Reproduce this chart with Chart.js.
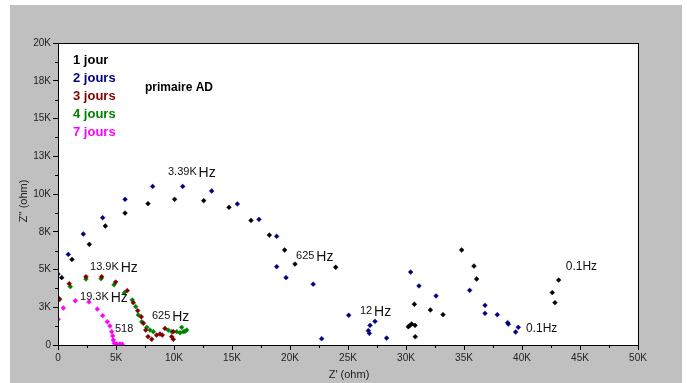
<!DOCTYPE html>
<html>
<head>
<meta charset="utf-8">
<script src="https://cdn.jsdelivr.net/npm/chart.js@4"></script>
<style>
  html, body { margin: 0; padding: 0; background: #fff; }
</style>
</head>
<body>
<canvas id="nyquist" width="687" height="383"></canvas>
<script>
// Nyquist data, in ohm
const seriesNames = ["1 jour", "2 jours", "3 jours", "4 jours", "7 jours"];
const seriesColors = ["#000000", "#000080", "#800000", "#008000", "#ff00ff"];

const day1Re = [320, 1200, 2700, 4080, 5780, 7760, 10050, 12560, 14740, 16640, 18220, 19540, 20430, 23940,
  30720, 30200, 30340, 30490, 30780, 30800, 32100, 33190, 34800, 35860, 36090, 42610, 42840, 43160];
const day1Im = [4460, 5670, 6670, 7880, 8740, 9360, 9650, 9560, 9120, 8250, 7280, 6290, 5360, 5150,
  2700, 1210, 1300, 1390, 1300, 550, 2320, 2010, 6290, 5230, 4370, 3470, 2800, 4300];

const day2Re = [0, 890, 2180, 3850, 5780, 8160, 10750, 13250, 15460, 17330, 18850, 18850, 19660, 22000,
  22730, 25060, 26750, 26840, 26900, 27330, 28330, 30400, 31120, 32590, 35490, 36810, 36810, 37870,
  38760, 38820, 39450, 39680];
const day2Im = [4700, 6000, 7350, 8430, 9650, 10500, 10500, 10200, 9340, 8320, 7200, 5190, 4460, 4030,
  420, 1970, 950, 770, 1300, 1570, 460, 4830, 3910, 3250, 3620, 2630, 2100, 2010,
  1480, 1390, 860, 1170];

const day3Re = [120, 970, 2410, 3770, 4970, 5970, 6490, 6870, 7180, 7360, 7560, 7760, 8080, 8500,
  8790, 8990, 9220, 9800, 9940, 9940];
const day3Im = [3060, 4060, 4520, 4520, 4170, 3600, 2800, 2270, 1870, 1440, 990, 550, 380, 660,
  730, 660, 1100, 550, 380, 880];

const day4Re = [120, 1060, 2410, 3710, 4830, 5720, 6400, 6700, 6920, 7220, 7650, 7930, 8220, 9500,
  9800, 10230, 10520, 10800, 11090, 10660, 10950];
const day4Im = [3000, 3860, 4370, 4390, 3990, 3460, 2980, 2540, 1990, 1540, 1170, 990, 880, 990,
  880, 880, 810, 880, 990, 1170, 900];

const day7Re = [20, 460, 1490, 2670, 3390, 3850, 4250, 4480, 4630, 4710, 4770, 4850, 5060, 5340, 5540];
const day7Im = [1700, 2450, 2930, 2850, 2380, 1940, 1540, 1260, 880, 600, 330, 110, 70, 70, 50];

// frequency notes placed on the plot
const noteText = ["3.39K", "625", "13.9K", "19.3K", "518", "625", "12", "0.1Hz", "0.1Hz"];
const noteUnit = [" Hz", " Hz", " Hz", " Hz", "", " Hz", " Hz", "", ""];
const noteRe = [9480, 20520, 2760, 1900, 4910, 8100, 26030, 43770, 40340];
const noteIm = [11460, 5890, 5170, 3180, 1060, 1920, 2250, 5190, 1060];

const reTicksMax = 50000;
const imTicksMax = 20000;

function toPoints(xs, ys) {
  return xs.map((x, i) => ({ x: x, y: ys[i] }));
}

const allRe = [day1Re, day2Re, day3Re, day4Re, day7Re];
const allIm = [day1Im, day2Im, day3Im, day4Im, day7Im];

const datasets = seriesNames.map((name, i) => ({
  label: name,
  data: toPoints(allRe[i], allIm[i]),
  backgroundColor: seriesColors[i],
  borderColor: seriesColors[i],
  pointStyle: "rectRot",
  pointRadius: 2.4,
  pointBorderWidth: 0.5,
  showLine: false
}));

function kLabel(v) {
  if (v === 0) return "0";
  return Math.round(v / 1000) + "K";
}

// grey frame, white plot area
const framePlugin = {
  id: "frame",
  beforeDraw(chart) {
    const ctx = chart.ctx;
    const a = chart.chartArea;
    ctx.save();
    ctx.fillStyle = "#ffffff";
    ctx.fillRect(0, 0, chart.width, chart.height);
    ctx.fillStyle = "#c0c0c0";
    ctx.fillRect(10, 5, 672, chart.height - 5);
    ctx.fillStyle = "#ffffff";
    ctx.fillRect(a.left, a.top, a.right - a.left, a.bottom - a.top);
    ctx.restore();
  },
  afterDraw(chart) {
    const ctx = chart.ctx;
    const a = chart.chartArea;
    const xs = chart.scales.x;
    const ys = chart.scales.y;
    ctx.save();
    ctx.strokeStyle = "#000";
    ctx.lineWidth = 1;
    ctx.strokeRect(a.left + 0.5, a.top + 0.5, a.right - a.left, a.bottom - a.top);

    // minor ticks
    ctx.beginPath();
    for (let v = 1250; v < imTicksMax; v += 2500) {
      const p = Math.round(ys.getPixelForValue(v)) + 0.5;
      ctx.moveTo(a.left - 3, p);
      ctx.lineTo(a.left, p);
    }
    for (let v = 2500; v < reTicksMax; v += 5000) {
      const p = Math.round(xs.getPixelForValue(v)) + 0.5;
      ctx.moveTo(p, a.bottom);
      ctx.lineTo(p, a.bottom + 3);
    }
    ctx.stroke();

    // axis titles
    ctx.fillStyle = "#222";
    ctx.font = "11px 'Liberation Sans', Arial, sans-serif";
    ctx.textAlign = "center";
    ctx.textBaseline = "middle";
    ctx.fillText("Z' (ohm)", 349, 375);
    ctx.translate(24, 201);
    ctx.rotate(-Math.PI / 2);
    ctx.fillText("Z'' (ohm)", 0, 0);
    ctx.restore();

    // legend, coloured text only
    ctx.save();
    ctx.font = "bold 13px 'Liberation Sans', Arial, sans-serif";
    ctx.textAlign = "left";
    ctx.textBaseline = "middle";
    chart.data.datasets.forEach((ds, i) => {
      ctx.fillStyle = ds.borderColor;
      ctx.fillText(ds.label, 73, 60 + i * 18);
    });
    ctx.fillStyle = "#000";
    ctx.font = "bold 12px 'Liberation Sans', Arial, sans-serif";
    ctx.fillText("primaire AD", 145, 88);

    // frequency notes
    ctx.fillStyle = "#111";
    noteText.forEach((t, i) => {
      const px = xs.getPixelForValue(noteRe[i]);
      const py = ys.getPixelForValue(noteIm[i]);
      const uniform = noteUnit[i] === "";
      ctx.font = (uniform && t.indexOf("Hz") > 0 ? "12px" : "11px") + " 'Liberation Sans', Arial, sans-serif";
      ctx.fillText(t, px, py);
      if (!uniform) {
        const w = ctx.measureText(t).width;
        ctx.font = "14px 'Liberation Sans', Arial, sans-serif";
        ctx.fillText(noteUnit[i], px + w - 2, py + 1);
      }
    });
    ctx.restore();
  }
};

const tickFont = { family: "'Liberation Sans', Arial, sans-serif", size: 10 };

new Chart(document.getElementById("nyquist"), {
  type: "scatter",
  data: { datasets: datasets },
  options: {
    responsive: false,
    animation: false,
    layout: { padding: { left: 10, top: 43, right: 49, bottom: 0 } },
    plugins: {
      legend: { display: false },
      tooltip: { enabled: false }
    },
    scales: {
      x: {
        type: "linear",
        min: 0,
        max: reTicksMax,
        ticks: { stepSize: 5000, callback: kLabel, font: tickFont, color: "#222", padding: 2, maxRotation: 0 },
        grid: { drawOnChartArea: false, tickLength: 5, color: "#000" },
        border: { color: "#000" },
        afterFit(s) { s.height = 38; }
      },
      y: {
        type: "linear",
        min: 0,
        max: imTicksMax,
        ticks: { stepSize: 2500, callback: kLabel, font: tickFont, color: "#222", padding: 2 },
        grid: { drawOnChartArea: false, tickLength: 5, color: "#000" },
        border: { color: "#000" },
        afterFit(s) { s.height = s.height; s.width = 48; }
      }
    }
  },
  plugins: [framePlugin]
});
</script>
</body>
</html>
